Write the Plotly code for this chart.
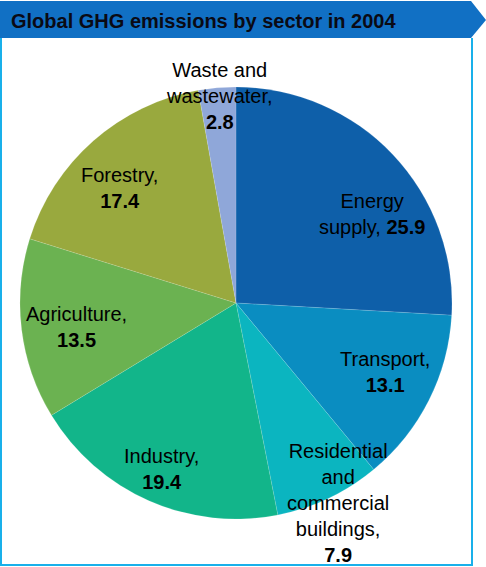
import math
import plotly.graph_objects as go

W, H = 486, 567

sectors = ["Energy supply", "Transport", "Residential and commercial buildings",
           "Industry", "Agriculture", "Forestry", "Waste and wastewater"]
values = [25.9, 13.1, 7.9, 19.4, 13.5, 17.4, 2.8]
label_lines = ["Energy<br>supply,", "Transport,", "Residential<br>and<br>commercial<br>buildings,",
               "Industry,", "Agriculture,", "Forestry,", "Waste and<br>wastewater,"]
value_sep = [" ", "<br>", "<br>", "<br>", "<br>", "<br>", "<br>"]
colors = ["#0e5fa9", "#0a8dc1", "#0bb5c0", "#12b58a", "#6bb251", "#99a93e", "#8fa7d9"]
title = "Global GHG emissions by sector in 2004"

# label placement style (radius fraction, angle nudge in degrees)
label_r = [0.75, 0.76, 1.04, 0.84, 0.745, 0.755, 0.96]
label_da = [10.2, -2.0, -1.6, 0.4, -1.6, -4.0, 0.6]

# pie geometry in pixels
cx, cy, R = 236, 303, 216

fig = go.Figure()
fig.add_trace(go.Pie(
    labels=sectors, values=values, sort=False, direction="clockwise", rotation=0,
    marker=dict(colors=colors, line=dict(color="rgba(255,255,255,0.25)", width=0.5)),
    textinfo="none", hoverinfo="label+value", showlegend=False,
    domain=dict(x=[(cx - R) / W, (cx + R) / W], y=[1 - (cy + R) / H, 1 - (cy - R) / H]),
))

total = sum(values)
cum = 0.0
annotations = []
for i, v in enumerate(values):
    mid = (cum + v / 2) / total * 360 + label_da[i]
    cum += v
    a = math.radians(mid)
    px = cx + label_r[i] * R * math.sin(a)
    py = cy - label_r[i] * R * math.cos(a)
    annotations.append(dict(
        x=px / W, y=1 - py / H, xref="paper", yref="paper",
        text=f"{label_lines[i]}{value_sep[i]}<b>{v:.1f}</b>",
        showarrow=False, xanchor="center", yanchor="middle", align="center",
        font=dict(family="Liberation Sans, Arial, sans-serif", size=20, color="#000000"),
    ))

annotations.append(dict(
    x=9 / W, y=1 - 21 / H, xref="paper", yref="paper", text=f"<b>{title}</b>",
    showarrow=False, xanchor="left", yanchor="middle",
    font=dict(family="Liberation Sans, Arial, sans-serif", size=20, color="#0a0a14"),
))

def P(x, y):
    return f"{x / W},{1 - y / H}"

shapes = [
    dict(type="path", xref="paper", yref="paper",
         path=f"M {P(1, 38)} L {P(1, 565)} L {P(472, 565)} L {P(472, 38)}",
         line=dict(color="#19b0ea", width=2), fillcolor="rgba(0,0,0,0)", layer="below"),
    dict(type="path", xref="paper", yref="paper",
         path=f"M {P(0, 1)} L {P(471, 1)} L {P(486, 20)} L {P(471, 38)} L {P(0, 38)} Z",
         line=dict(width=0), fillcolor="#1170c4", layer="above"),
]

fig.update_layout(
    width=W, height=H, margin=dict(l=0, r=0, t=0, b=0),
    paper_bgcolor="white", plot_bgcolor="white",
    annotations=annotations, shapes=shapes,
)

fig.write_html("out.html")
